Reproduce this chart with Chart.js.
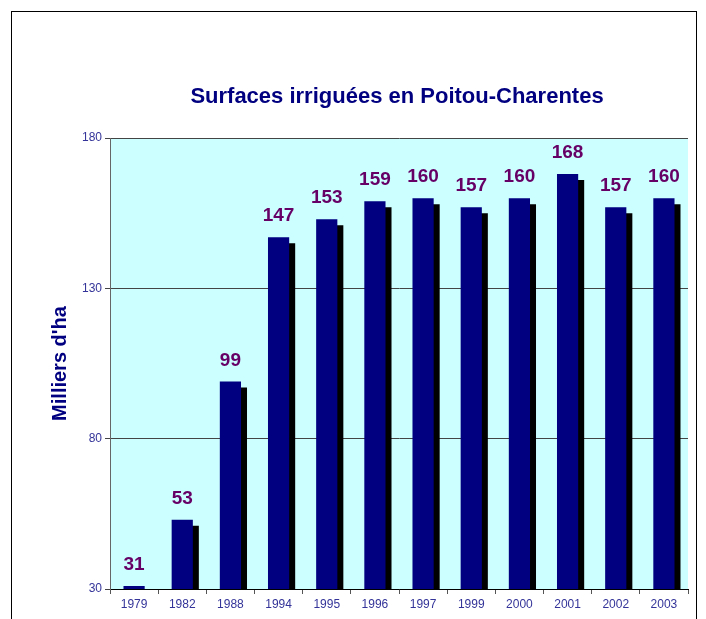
<!DOCTYPE html>
<html>
<head>
<meta charset="utf-8">
<script src="https://cdn.jsdelivr.net/npm/chart.js@4"></script>
<style>
  html, body { margin: 0; padding: 0; background: #fff; }
  #wrap { width: 706px; height: 619px; position: relative; }
</style>
</head>
<body>
<div id="wrap"><canvas id="chart" width="706" height="619"></canvas></div>
<script>
// Data
var years = ['1979', '1982', '1988', '1994', '1995', '1996', '1997', '1999', '2000', '2001', '2002', '2003'];
var surfaces = [31, 53, 99, 147, 153, 159, 160, 157, 160, 168, 157, 160];
var yTicks = [30, 80, 130, 180];

var titleText = 'Surfaces irriguées en Poitou-Charentes';
var yTitleText = "Milliers d'ha";

// Frame, titles, bar shadows and value labels
var decorPlugin = {
    id: 'decor',
    beforeDraw: function(chart) {
        var ctx = chart.ctx;
        var a = chart.chartArea;
        ctx.save();
        ctx.fillStyle = '#ccffff';
        ctx.fillRect(a.left, a.top, a.right - a.left, a.bottom - a.top);
        ctx.strokeStyle = '#000';
        ctx.lineWidth = 1;
        ctx.strokeRect(11.5, 11.5, 685, 700);
        ctx.restore();
    },
    beforeDatasetsDraw: function(chart) {
        var ctx = chart.ctx;
        ctx.save();
        ctx.shadowColor = '#000';
        ctx.shadowBlur = 0;
        ctx.shadowOffsetX = 6;
        ctx.shadowOffsetY = 6;
    },
    afterDatasetsDraw: function(chart) {
        var ctx = chart.ctx;
        ctx.restore();
        var a = chart.chartArea;
        ctx.save();
        // value labels
        var meta = chart.getDatasetMeta(0);
        ctx.fillStyle = '#660066';
        ctx.font = 'bold 19px "Liberation Sans", Arial, sans-serif';
        ctx.textAlign = 'center';
        ctx.textBaseline = 'alphabetic';
        meta.data.forEach(function(bar, i) {
            ctx.fillText(String(surfaces[i]), bar.x, bar.y - 16);
        });
        // chart title
        ctx.fillStyle = '#000080';
        ctx.font = 'bold 22px "Liberation Sans", Arial, sans-serif';
        ctx.textBaseline = 'middle';
        ctx.fillText(titleText, (a.left + a.right) / 2 - 2, 97);
        // y axis title
        ctx.translate(60, (a.top + a.bottom) / 2);
        ctx.rotate(-Math.PI / 2);
        ctx.font = 'bold 20px "Liberation Sans", Arial, sans-serif';
        ctx.fillText(yTitleText, 0, 0);
        ctx.restore();
    }
};

var ctx = document.getElementById('chart').getContext('2d');
var chart = new Chart(ctx, {
    type: 'bar',
    data: {
        labels: years,
        datasets: [{
            data: surfaces,
            backgroundColor: '#000080',
            borderWidth: 0,
            barPercentage: 0.44,
            categoryPercentage: 1.0
        }]
    },
    options: {
        responsive: false,
        animation: false,
        layout: { padding: { left: 0, top: 138, right: 18, bottom: 0 } },
        plugins: {
            legend: { display: false },
            title: { display: false },
            tooltip: { enabled: false }
        },
        scales: {
            x: {
                offset: true,
                grid: {
                    offset: true,
                    drawOnChartArea: false,
                    drawTicks: true,
                    tickLength: 5,
                    color: '#555'
                },
                border: { color: '#000', width: 1 },
                ticks: {
                    color: '#333399',
                    font: { family: '"Liberation Sans", Arial, sans-serif', size: 12 },
                    padding: 3,
                    maxRotation: 0,
                    autoSkip: false
                },
                afterFit: function(scale) { scale.height = 30; }
            },
            y: {
                min: 30,
                max: 180,
                afterBuildTicks: function(scale) {
                    scale.ticks = yTicks.map(function(v) { return { value: v }; });
                },
                grid: {
                    color: '#444',
                    tickLength: 5,
                    drawTicks: true
                },
                border: { color: '#666', width: 1 },
                ticks: {
                    color: '#333399',
                    font: { family: '"Liberation Sans", Arial, sans-serif', size: 12 },
                    padding: 3
                },
                afterFit: function(scale) { scale.width = 110; }
            }
        }
    },
    plugins: [decorPlugin]
});
</script>
</body>
</html>
